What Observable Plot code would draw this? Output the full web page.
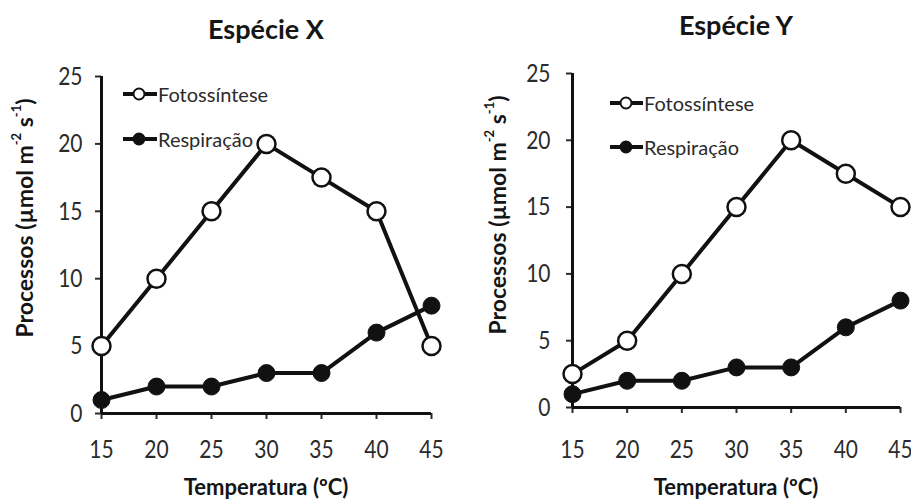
<!DOCTYPE html>
<html><head><meta charset="utf-8">
<script src="https://cdn.jsdelivr.net/npm/d3@7"></script>
<script src="https://cdn.jsdelivr.net/npm/@observablehq/plot@0.6"></script>
<style>
body{margin:0;background:#fff;}
#wrap{position:relative;width:911px;height:504px;display:flex;background:#fff;}
#wrap svg{display:block;background:#fff;}
</style></head><body><div id="wrap"></div>
<script>
// ---- data ----
const temperatures = [15, 20, 25, 30, 35, 40, 45];
const fotoX = [5, 10, 15, 20, 17.5, 15, 5];
const respX = [1, 2, 2, 3, 3, 6, 8];
const fotoY = [2.5, 5, 10, 15, 20, 17.5, 15];
const respY = [1, 2, 2, 3, 3, 6, 8];
const yTicks = [0, 5, 10, 15, 20, 25];
const titles = ["Espécie X", "Espécie Y"];
const seriesNames = ["Fotossíntese", "Respiração"];
const xLabel = "Temperatura (ºC)";
const yLabelParts = ["Processos (µmol m", "-2", " s", "-1", ")"];

const FONT = "Lato, 'Open Sans', sans-serif";

const panels = [
  {title: titles[0], foto: fotoX, resp: respX, width: 455, mL: 101, mR: 24, mT: 76, mB: 91,
   xPad: 20, yPad: 13, titleY: 39, xLabelY: 495, yLabelX: 24, yLabelY: 218,
   legX1: 123, legX2: 157, legC: 139, legT: 158, legY1: 94, legY2: 139},
  {title: titles[1], foto: fotoY, resp: respY, width: 456, mL: 117, mR: 11, mT: 73, mB: 97,
   xPad: 26, yPad: 16, titleY: 35, xLabelY: 495, yLabelX: 42, yLabelY: 215,
   legX1: 155, legX2: 188, legC: 171, legT: 189, legY1: 103, legY2: 147}
];

const wrap = document.getElementById("wrap");

for (const p of panels) {
  const foto = temperatures.map((t, i) => ({t, v: p.foto[i]}));
  const resp = temperatures.map((t, i) => ({t, v: p.resp[i]}));
  const chart = Plot.plot({
    width: p.width, height: 504,
    marginLeft: p.mL, marginRight: p.mR, marginTop: p.mT, marginBottom: p.mB,
    style: {fontFamily: FONT, fontSize: "21px", color: "#2b2b2b", background: "#fff"},
    x: {domain: [15, 45]},
    y: {domain: [0, 25]},
    marks: [
      Plot.axisX({ticks: temperatures, tickSize: 6, tickPadding: p.xPad, label: null, strokeWidth: 2, tickFormat: d => String(d), fill: "#2b2b2b"}),
      Plot.axisY({ticks: yTicks, tickSize: 6, tickPadding: p.yPad, label: null, strokeWidth: 2, tickFormat: d => String(d), fill: "#2b2b2b"}),
      Plot.ruleY([0], {stroke: "#111", strokeWidth: 3}),
      Plot.ruleX([15], {stroke: "#111", strokeWidth: 3}),
      Plot.line(foto, {x: "t", y: "v", stroke: "#111", strokeWidth: 4}),
      Plot.line(resp, {x: "t", y: "v", stroke: "#111", strokeWidth: 4}),
      Plot.dot(resp, {x: "t", y: "v", r: 8.5, fill: "#111", stroke: "#111", strokeWidth: 1}),
      Plot.dot(foto, {x: "t", y: "v", r: 9, fill: "#fff", stroke: "#111", strokeWidth: 2.5})
    ]
  });
  // stretch tick labels vertically (condensed look of the original font)
  chart.querySelectorAll('g[aria-label$="tick label"] text').forEach(el => {
    const tr = el.getAttribute("transform") || "";
    el.setAttribute("transform", tr + " scale(1,1.22)");
  });
  const svg = d3.select(chart);
  const frameCx = p.mL + (p.width - p.mL - p.mR) / 2;
  // title
  svg.append("text").attr("x", frameCx).attr("y", p.titleY).attr("text-anchor", "middle")
    .attr("font-family", FONT).attr("font-weight", "bold").attr("font-size", 27).attr("fill", "#151515")
    .text(p.title);
  // x label
  svg.append("text").attr("x", frameCx).attr("y", p.xLabelY).attr("text-anchor", "middle")
    .attr("font-family", FONT).attr("font-weight", "bold").attr("font-size", 22).attr("fill", "#151515")
    .text(xLabel);
  // y label
  const yl = svg.append("text").attr("transform", `translate(${p.yLabelX},${p.yLabelY}) rotate(-90)`)
    .attr("text-anchor", "middle").attr("dominant-baseline", "central")
    .attr("font-family", FONT).attr("font-weight", "bold").attr("font-size", 23).attr("fill", "#151515");
  yLabelParts.forEach((s, i) => {
    const ts = yl.append("tspan").text(s);
    if (i === 1 || i === 3) ts.attr("font-size", 13).attr("baseline-shift", "super");
  });
  // legend
  const leg = [
    {y: p.legY1, fill: "#fff", name: seriesNames[0]},
    {y: p.legY2, fill: "#111", name: seriesNames[1]}
  ];
  for (const l of leg) {
    svg.append("line").attr("x1", p.legX1).attr("x2", p.legX2).attr("y1", l.y).attr("y2", l.y)
      .attr("stroke", "#111").attr("stroke-width", 4);
    svg.append("circle").attr("cx", p.legC).attr("cy", l.y).attr("r", 5.5)
      .attr("fill", l.fill).attr("stroke", "#111").attr("stroke-width", 2);
    svg.append("text").attr("x", p.legT).attr("y", l.y).attr("dominant-baseline", "central")
      .attr("text-anchor", "start")
      .attr("font-family", FONT).attr("font-size", 20).attr("fill", "#2b2b2b").text(l.name);
  }
  wrap.appendChild(chart);
}
</script></body></html>
